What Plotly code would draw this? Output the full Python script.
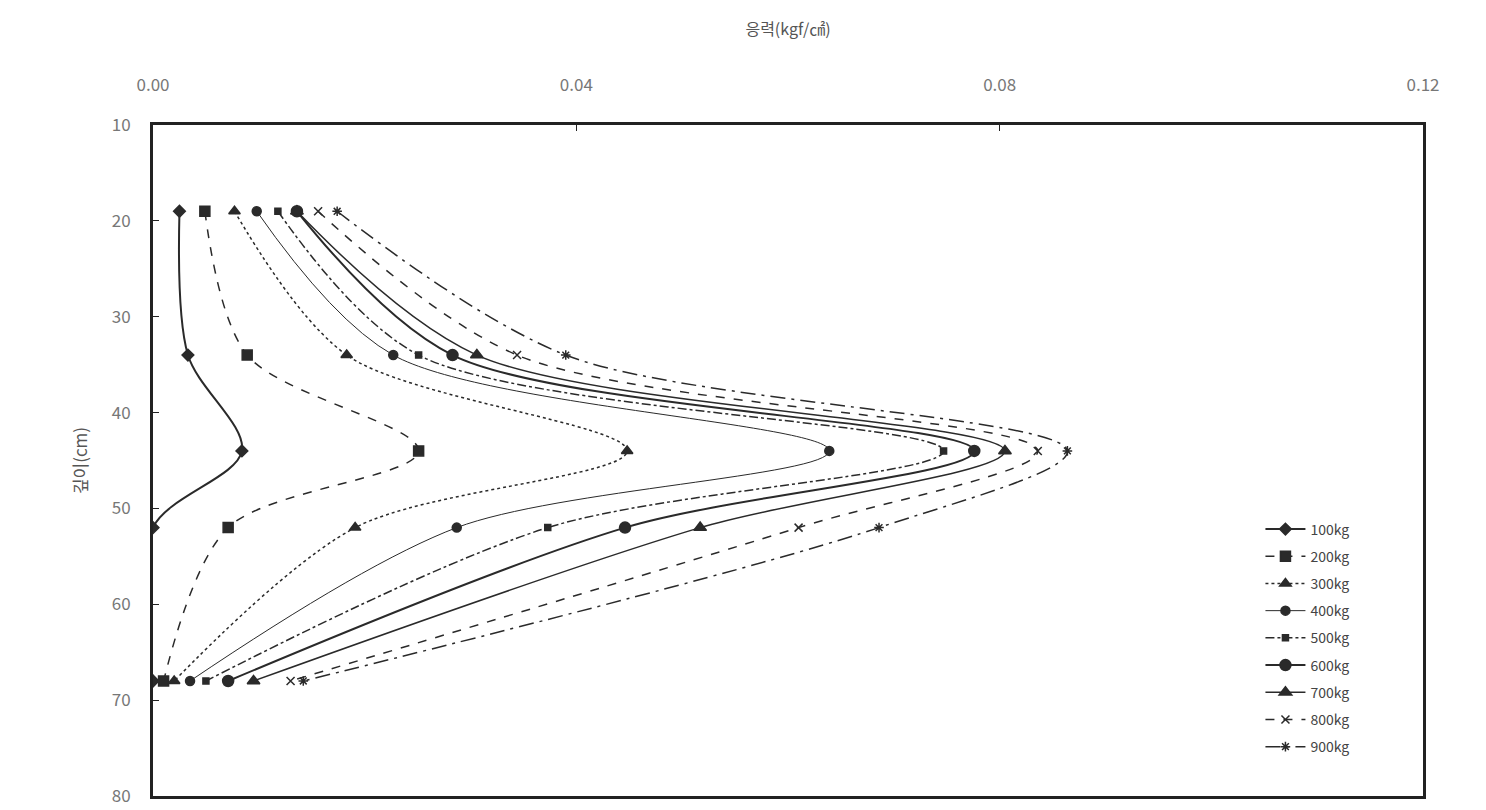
import plotly.graph_objects as go

depths = [19, 34, 44, 52, 68]
loads = ["100kg", "200kg", "300kg", "400kg", "500kg", "600kg", "700kg", "800kg", "900kg"]
s100 = [0.0025, 0.0033, 0.0084, 0.0000, 0.0000]
s200 = [0.0049, 0.0089, 0.0251, 0.0071, 0.0010]
s300 = [0.0077, 0.0183, 0.0448, 0.0191, 0.0020]
s400 = [0.0098, 0.0227, 0.0639, 0.0287, 0.0035]
s500 = [0.0118, 0.0251, 0.0747, 0.0373, 0.0050]
s600 = [0.0136, 0.0283, 0.0776, 0.0446, 0.0071]
s700 = [0.0136, 0.0306, 0.0805, 0.0517, 0.0095]
s800 = [0.0156, 0.0344, 0.0836, 0.0610, 0.0130]
s900 = [0.0174, 0.0390, 0.0864, 0.0686, 0.0142]
series = [s100, s200, s300, s400, s500, s600, s700, s800, s900]

x_ticks = [0.00, 0.04, 0.08, 0.12]
x_tick_labels = ["0.00", "0.04", "0.08", "0.12"]
y_ticks = [10, 20, 30, 40, 50, 60, 70, 80]

styles = [
    dict(dash="solid", symbol="diamond", size=9, width=2),
    dict(dash="dash", symbol="square", size=10, width=1.5),
    dict(dash="dot", symbol="triangle-up", size=10, width=1.5),
    dict(dash="solid", symbol="circle", size=9, width=1),
    dict(dash="dashdot", symbol="square", size=6, width=1.5),
    dict(dash="solid", symbol="circle", size=11, width=2),
    dict(dash="solid", symbol="triangle-up", size=11, width=1.5),
    dict(dash="dash", symbol="x-thin", size=8, width=1.5),
    dict(dash="longdashdot", symbol="asterisk", size=8, width=1.5),
]

fig = go.Figure()
for name, vals, st in zip(loads, series, styles):
    fig.add_trace(go.Scatter(
        x=vals, y=depths, name=name, mode="lines+markers", legendgroup=name,
        line=dict(color="#2a2a2a", width=st["width"], dash=st["dash"], shape="spline", smoothing=0.9),
        marker=dict(symbol=st["symbol"], size=st["size"], color="#2a2a2a",
                    line=dict(color="#2a2a2a", width=1.5)),
    ))

font_main = "Noto Sans CJK KR, Noto Sans, sans-serif"
fig.update_layout(
    width=1486, height=810,
    margin=dict(l=145, r=71, t=117, b=22),
    paper_bgcolor="white", plot_bgcolor="white",
    font=dict(family=font_main, color="#555555", size=16),
    showlegend=True,
    legend=dict(x=0.872, y=0.05, xanchor="left", yanchor="bottom",
                bgcolor="rgba(255,255,255,0)", borderwidth=0,
                font=dict(size=14, color="#444444"), tracegroupgap=6, itemwidth=40),
    xaxis=dict(side="top", range=[0, 0.12], tickvals=x_ticks, ticktext=x_tick_labels,
               showgrid=False, zeroline=False, showline=True, linewidth=3, linecolor="#222222",
               mirror=True, ticks="inside", ticklen=6, tickcolor="#222222",
               ticklabelstandoff=24, automargin=False,
               title=dict(text="응력(kgf/㎠)", font=dict(size=16, color="#555555"), standoff=32),
               tickfont=dict(size=17, color="#777777")),
    yaxis=dict(range=[80, 10], tickvals=y_ticks, showgrid=False, zeroline=False,
               showline=True, linewidth=3, linecolor="#222222", mirror=True,
               ticks="inside", ticklen=6, tickcolor="#222222",
               ticklabelstandoff=16, automargin=False,
               title=dict(text="깊이(cm)", font=dict(size=17, color="#555555"), standoff=20),
               tickfont=dict(size=17, color="#777777")),
)

fig.write_html("out.html")
